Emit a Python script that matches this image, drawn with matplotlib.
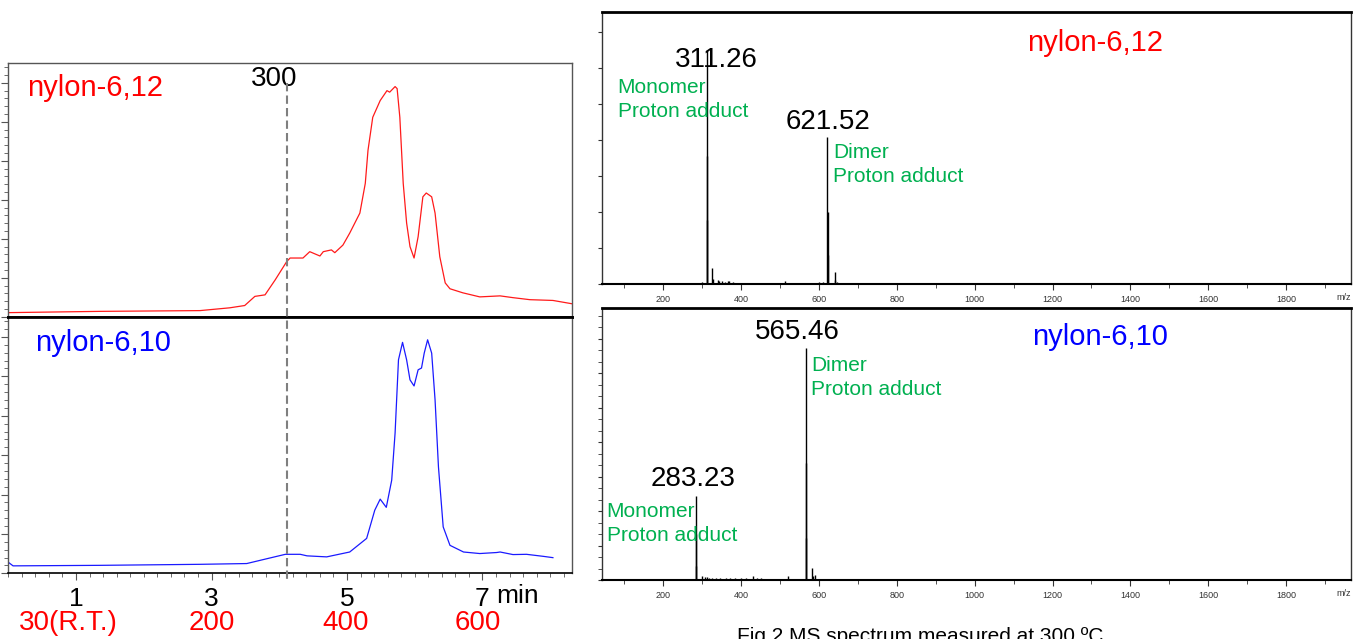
import matplotlib
matplotlib.use("Agg")
import matplotlib.pyplot as plt
import matplotlib.transforms as mtransforms
from matplotlib.lines import Line2D
from matplotlib.ticker import MultipleLocator, FixedLocator, NullFormatter

plt.rcParams['font.family'] = ['Liberation Sans', 'DejaVu Sans']

# thermogram of nylon-6,12 (time in min, intensity in % of panel)
t_612 = [0.0, 1.35, 2.83, 3.27, 3.49, 3.64, 3.79, 3.94, 4.11, 4.16, 4.35, 4.45,
         4.60, 4.65, 4.77, 4.82, 4.94, 5.04, 5.19, 5.27, 5.31, 5.38, 5.49, 5.59,
         5.63, 5.71, 5.74, 5.78, 5.83, 5.88, 5.93, 5.99, 6.05, 6.12, 6.17, 6.25,
         6.30, 6.37, 6.45, 6.52, 6.71, 6.96, 7.26, 7.45, 7.70, 8.04, 8.32]
i_612 = [1.6, 2.1, 2.4, 3.5, 4.4, 8.0, 8.6, 14.5, 21.7, 23.1, 23.1, 25.6,
         23.9, 25.6, 26.3, 25.2, 28.2, 32.9, 40.8, 52.5, 65.5, 78.5, 85.1, 89.0,
         88.4, 90.6, 89.8, 78.5, 52.5, 36.9, 27.6, 23.1, 31.5, 47.2, 48.7, 47.2,
         40.8, 23.6, 13.3, 11.0, 9.4, 7.8, 8.2, 7.5, 6.7, 6.4, 5.1]

# thermogram of nylon-6,10
t_610 = [0.0, 0.07, 1.35, 2.83, 3.52, 3.82, 4.09, 4.31, 4.41, 4.70, 5.04, 5.29,
         5.41, 5.49, 5.58, 5.66, 5.71, 5.76, 5.82, 5.88, 5.93, 5.99, 6.05, 6.10,
         6.14, 6.19, 6.25, 6.30, 6.35, 6.42, 6.52, 6.72, 6.96, 7.21, 7.26, 7.45,
         7.65, 7.90, 8.04]
i_610 = [4.3, 2.9, 3.1, 3.5, 3.8, 5.7, 7.4, 7.4, 6.8, 6.4, 8.3, 13.6,
         24.6, 28.9, 25.7, 36.3, 54.7, 83.2, 90.0, 83.2, 75.4, 73.0, 79.3, 80.0,
         85.8, 91.0, 85.8, 67.6, 41.5, 18.1, 10.9, 8.3, 7.7, 8.1, 8.3, 7.3,
         7.4, 6.6, 6.1]

time_ticks = [1, 3, 5, 7]
temp_labels = ['30(R.T.)', '200', '400', '600']
temp_pos = [0.88, 3.0, 4.98, 6.93]
t_300 = 4.12

# MS spectra at 300 C (m/z, relative abundance %)
mz_612 = [290, 300, 311.26, 312.3, 313.3, 326, 327, 340, 344, 352, 358, 366, 370,
          380, 395, 513, 585, 600, 610, 621.52, 622.5, 623.5, 640, 641, 646]
ab_612 = [0.5, 0.6, 86, 47, 23.5, 5.8, 2, 1.5, 1.2, 1, 0.8, 1.2, 1,
          0.6, 0.5, 1.2, 0.5, 0.6, 0.7, 54, 26.6, 10.7, 4.5, 1.5, 0.8]
mz_610 = [283.23, 284.2, 285.2, 300, 306, 312, 318, 325, 335, 345, 360, 372, 385,
          400, 412, 430, 440, 452, 478, 520, 565.46, 566.5, 567.5, 583, 584, 590,
          610, 635, 655]
ab_610 = [31, 17, 5, 1.5, 1, 1.2, 0.8, 0.8, 0.6, 0.6, 0.6, 0.6, 0.7,
          0.6, 0.8, 1.5, 0.8, 0.7, 0.5, 1.3, 85.5, 43, 15.3, 4.3, 1.5, 2,
          0.5, 0.4, 0.4]

W, H = 1357, 639
fig = plt.figure(figsize=(W / 100, H / 100), dpi=100)


def px_axes(x0, y0, x1, y1):
    return fig.add_axes([x0 / W, 1 - y1 / H, (x1 - x0) / W, (y1 - y0) / H])


grey = '#555555'
red = '#ff1a1a'
blue = '#1a1aff'
green = '#00b050'

# ---- left: thermograms ----
ax_a = px_axes(8.3, 62.7, 572.3, 316.7)
ax_b = px_axes(8.3, 316.7, 572.3, 573.3)
for ax in (ax_a, ax_b):
    ax.set_xlim(0, 8.326)
    ax.set_ylim(0, 100)
    for s in ('left', 'right', 'top'):
        ax.spines[s].set_color(grey)
        ax.spines[s].set_linewidth(1)
    ax.yaxis.set_major_locator(MultipleLocator(15.35))
    ax.yaxis.set_minor_locator(MultipleLocator(3.07))
    ax.yaxis.set_major_formatter(NullFormatter())
    ax.tick_params(axis='y', which='major', direction='out', length=5, color=grey)
    ax.tick_params(axis='y', which='minor', direction='out', length=3, color=grey)

ax_a.spines['bottom'].set_color('black')
ax_a.spines['bottom'].set_linewidth(2)
ax_b.spines['top'].set_color('black')
ax_b.spines['top'].set_linewidth(2)
ax_b.spines['bottom'].set_color('black')
ax_b.spines['bottom'].set_linewidth(1.2)
ax_a.tick_params(axis='x', which='both', bottom=False, labelbottom=False)

ax_b.xaxis.set_major_locator(FixedLocator(time_ticks))
ax_b.xaxis.set_minor_locator(MultipleLocator(0.2))
ax_b.set_xticklabels([str(t) for t in time_ticks], fontsize=19)
ax_b.tick_params(axis='x', which='major', direction='out', length=5, pad=5, color=grey)
ax_b.tick_params(axis='x', which='minor', direction='out', length=3, color=grey)

ax_a.plot(t_612, i_612, color=red, lw=0.9)
ax_b.plot(t_610, i_610, color=blue, lw=0.9)

ax_a.text(0.276, 90, 'nylon-6,12', color='red', fontsize=21, ha='left', va='center')
ax_a.text(3.92, 93.6, '300', color='black', fontsize=20, ha='center', va='center')
ax_b.text(0.394, 89.7, 'nylon-6,10', color='blue', fontsize=21, ha='left', va='center')

tb = mtransforms.blended_transform_factory(ax_b.transData, ax_b.transAxes)
ax_b.text(7.21, -0.0885, 'min', fontsize=19, ha='left', va='center', transform=tb)
tf = mtransforms.blended_transform_factory(ax_b.transData, fig.transFigure)
for pos, lab in zip(temp_pos, temp_labels):
    fig.text(pos, 1 - 623 / H, lab, color='red', fontsize=20, ha='center',
             va='center', transform=tf)

fig.add_artist(Line2D([t_300, t_300], [1 - 83 / H, 1 - 583 / H], transform=tf,
                      color='#7f7f7f', lw=1.5, dashes=(4, 2)))

# ---- right: MS spectra ----
ax_c = px_axes(602.3, 11.7, 1350.5, 284)
ax_d = px_axes(602.3, 308.3, 1350.5, 580)
for ax, mz, ab in ((ax_c, mz_612, ab_612), (ax_d, mz_610, ab_610)):
    ax.set_xlim(43.2, 1965.6)
    ax.set_ylim(0, 100)
    ax.vlines(mz, 0, ab, color='black', lw=1.0)
    for s in ax.spines.values():
        s.set_color('#333333')
        s.set_linewidth(1)
    ax.spines['top'].set_linewidth(2)
    ax.spines['top'].set_color('black')
    ax.spines['bottom'].set_linewidth(1.5)
    ax.spines['bottom'].set_color('black')
    ax.xaxis.set_major_locator(MultipleLocator(200))
    ax.xaxis.set_minor_locator(MultipleLocator(100))
    ax.yaxis.set_major_formatter(NullFormatter())
    ax.tick_params(axis='x', which='major', direction='out', length=4,
                   labelsize=6.5, labelcolor='#333333', pad=4, color='#333333')
    ax.tick_params(axis='x', which='minor', direction='out', length=3, color='#333333')
    ax.tick_params(axis='y', which='both', direction='out', length=3, color='#333333')
    ax.text(1.0, -0.05, 'm/z', fontsize=6.5, color='#333333', ha='right',
            va='center', transform=ax.transAxes)

ax_c.yaxis.set_major_locator(MultipleLocator(13.22))
ax_c.yaxis.set_minor_locator(MultipleLocator(13.22))
ax_d.yaxis.set_major_locator(MultipleLocator(12.69))
ax_d.yaxis.set_minor_locator(MultipleLocator(4.23))

# green notes: y is the baseline of the last line
note_ls = 1.3
ax_c.text(336.7, 82.3, '311.26', fontsize=20, ha='center', va='center')
ax_c.text(82.8, 61.4, 'Monomer\nProton adduct', color=green, fontsize=15,
          ha='left', va='baseline', linespacing=note_ls)
ax_c.text(621.9, 59.5, '621.52', fontsize=20, ha='center', va='center')
ax_c.text(636.8, 37.6, 'Dimer\nProton adduct', color=green, fontsize=15,
          ha='left', va='baseline', linespacing=note_ls)
ax_c.text(1309, 88.5, 'nylon-6,12', color='red', fontsize=21, ha='center', va='center')

ax_d.text(544.8, 91.3, '565.46', fontsize=20, ha='center', va='center')
ax_d.text(579.5, 68.1, 'Dimer\nProton adduct', color=green, fontsize=15,
          ha='left', va='baseline', linespacing=note_ls)
ax_d.text(277.1, 37.2, '283.23', fontsize=20, ha='center', va='center')
ax_d.text(54.6, 14.5, 'Monomer\nProton adduct', color=green, fontsize=15,
          ha='left', va='baseline', linespacing=note_ls)
ax_d.text(1322, 89.4, 'nylon-6,10', color='blue', fontsize=21, ha='center', va='center')

fig.text(736.7 / W, 1 - 627 / H, 'Fig.2 MS spectrum measured at 300 ºC',
         fontsize=15, ha='left', va='top')

fig.savefig('out.png', dpi=100)
